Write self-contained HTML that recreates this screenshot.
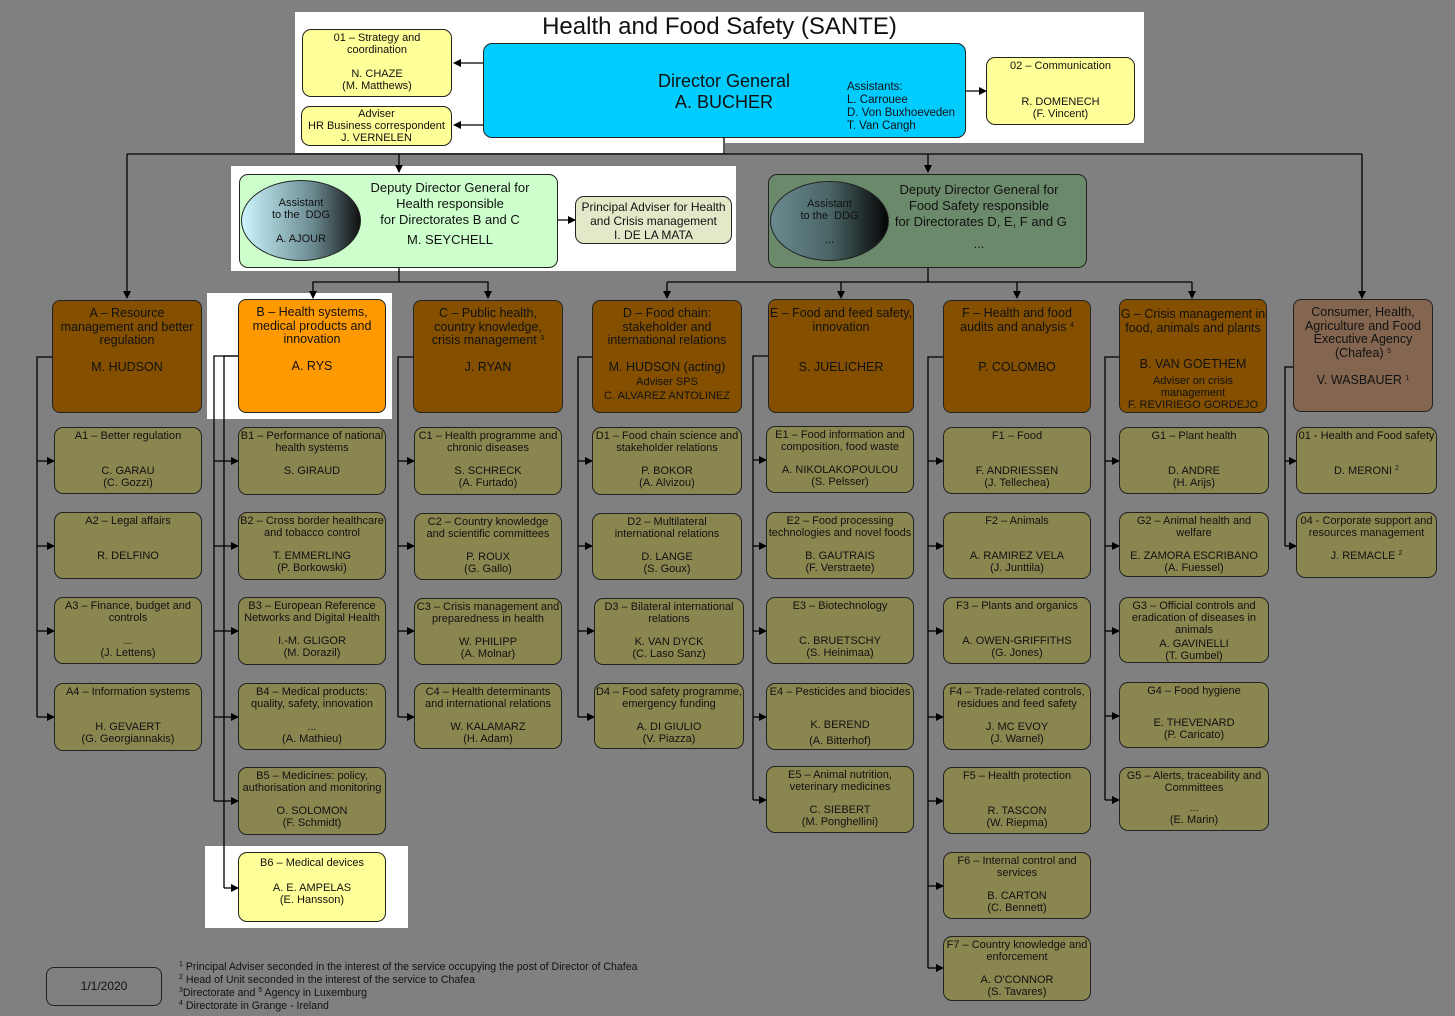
<!DOCTYPE html>
<html><head><meta charset="utf-8">
<style>
body{margin:0;width:1455px;height:1016px;background:#808080;position:relative;overflow:hidden;font-family:"Liberation Sans",sans-serif;color:#111}
.w{position:absolute;background:#fff}
.b{position:absolute;border:1px solid #222;border-radius:9px;box-sizing:border-box;text-align:center}
.u{background:#8a8650;font-size:11px;line-height:12px}
.u .t{position:absolute;top:2px;left:0;right:0}
.u .n{position:absolute;top:37px;left:0;right:0}
.d{background:#845000;font-size:12.5px;line-height:13.5px;padding-top:6px;border-radius:8px}
.y{background:#ffff99}
sup{font-size:7px;vertical-align:4px;line-height:0}
.ell{position:absolute;border:1px solid #222;border-radius:50%;text-align:center;font-size:11px;line-height:12px;box-sizing:border-box}
svg{position:absolute;left:0;top:0}
</style></head><body>
<div class="w" style="left:295px;top:12px;width:849px;height:131px"></div>
<div class="w" style="left:295px;top:143px;width:430px;height:10px"></div>
<div class="w" style="left:231px;top:166px;width:505px;height:105px"></div>
<div class="w" style="left:207px;top:293px;width:185px;height:126px"></div>
<div class="w" style="left:205px;top:846px;width:203px;height:82px"></div>

<svg width="1455" height="1016">
<defs><marker id="a" markerWidth="8" markerHeight="8" refX="7" refY="4" orient="auto" markerUnits="userSpaceOnUse"><path d="M0,0L8,4L0,8z" fill="#000"/></marker></defs>
<g stroke="#000" stroke-width="1.3" fill="none">
<path d="M724,138V154"/>
<path d="M127,154H1362"/>
<path d="M127,154V298" marker-end="url(#a)"/>
<path d="M399,154V172" marker-end="url(#a)"/>
<path d="M928,154V172" marker-end="url(#a)"/>
<path d="M1362,154V298" marker-end="url(#a)"/>
<path d="M483,63H454" marker-end="url(#a)"/>
<path d="M483,125H454" marker-end="url(#a)"/>
<path d="M966,91H986" marker-end="url(#a)"/>
<path d="M558,220H575" marker-end="url(#a)"/>
<path d="M399,268V282H313V298" marker-end="url(#a)"/>
<path d="M399,282H488V298" marker-end="url(#a)"/>
<path d="M928,268V282"/>
<path d="M667,282H1192"/>
<path d="M667,282V298" marker-end="url(#a)"/>
<path d="M841,282V298" marker-end="url(#a)"/>
<path d="M1017,282V298" marker-end="url(#a)"/>
<path d="M1192,282V298" marker-end="url(#a)"/>
<path d="M52,357H37V717"/>
<path d="M37,461H54" marker-end="url(#a)"/><path d="M37,546H54" marker-end="url(#a)"/><path d="M37,631H54" marker-end="url(#a)"/><path d="M37,717H54" marker-end="url(#a)"/>
<path d="M238,356H214V801"/><path d="M238,356H224V888"/>
<path d="M214,461H238" marker-end="url(#a)"/><path d="M214,546H238" marker-end="url(#a)"/><path d="M214,631H238" marker-end="url(#a)"/><path d="M214,717H238" marker-end="url(#a)"/><path d="M214,801H238" marker-end="url(#a)"/><path d="M224,888H238" marker-end="url(#a)"/>
<path d="M413,357H398V717"/>
<path d="M398,461H414" marker-end="url(#a)"/><path d="M398,546H414" marker-end="url(#a)"/><path d="M398,631H414" marker-end="url(#a)"/><path d="M398,717H414" marker-end="url(#a)"/>
<path d="M592,357H578V717"/>
<path d="M578,461H592" marker-end="url(#a)"/><path d="M578,546H592" marker-end="url(#a)"/><path d="M578,631H594" marker-end="url(#a)"/><path d="M578,717H594" marker-end="url(#a)"/>
<path d="M768,356H753V800"/>
<path d="M753,460H766" marker-end="url(#a)"/><path d="M753,546H766" marker-end="url(#a)"/><path d="M753,631H766" marker-end="url(#a)"/><path d="M753,717H766" marker-end="url(#a)"/><path d="M753,800H766" marker-end="url(#a)"/>
<path d="M943,357H928V968"/>
<path d="M928,461H943" marker-end="url(#a)"/><path d="M928,546H943" marker-end="url(#a)"/><path d="M928,631H943" marker-end="url(#a)"/><path d="M928,717H943" marker-end="url(#a)"/><path d="M928,801H943" marker-end="url(#a)"/><path d="M928,886H943" marker-end="url(#a)"/><path d="M928,968H943" marker-end="url(#a)"/>
<path d="M1119,357H1105V800"/>
<path d="M1105,461H1119" marker-end="url(#a)"/><path d="M1105,546H1119" marker-end="url(#a)"/><path d="M1105,631H1119" marker-end="url(#a)"/><path d="M1105,716H1119" marker-end="url(#a)"/><path d="M1105,800H1119" marker-end="url(#a)"/>
<path d="M1293,367H1285V546"/>
<path d="M1285,461H1296" marker-end="url(#a)"/><path d="M1285,546H1296" marker-end="url(#a)"/>
</g>
</svg>

<div style="position:absolute;left:295px;top:12px;width:849px;text-align:center;font-size:24px;line-height:30px">Health and Food Safety (SANTE)</div>

<div class="b y" style="left:302px;top:29px;width:150px;height:68px;font-size:11px;line-height:12px;padding-top:2px">01 – Strategy and<br>coordination<br><br>N. CHAZE<br>(M. Matthews)</div>
<div class="b y" style="left:301px;top:106px;width:151px;height:40px;font-size:11px;line-height:12px;padding-top:1px">Adviser<br>HR Business correspondent<br>J. VERNELEN</div>
<div class="b" style="left:483px;top:43px;width:483px;height:95px;background:#00ccff">
 <div style="position:absolute;left:140px;top:27px;width:200px;font-size:18px;line-height:21px">Director General<br>A. BUCHER</div>
 <div style="position:absolute;left:363px;top:37px;text-align:left;font-size:11.5px;line-height:13px">Assistants:<br>L. Carrouee<br>D. Von Buxhoeveden<br>T. Van Cangh</div>
</div>
<div class="b y" style="left:986px;top:57px;width:149px;height:68px;font-size:11px;line-height:12px;padding-top:2px">02 – Communication<br><br><br>R. DOMENECH<br>(F. Vincent)</div>

<div class="b" style="left:239px;top:174px;width:319px;height:94px;background:#ccffcc">
 <div style="position:absolute;left:110px;top:5px;width:200px;font-size:13px;line-height:16px">Deputy Director General for<br>Health responsible<br>for Directorates B and C<br><span style="line-height:24px">M. SEYCHELL</span></div>
</div>
<div class="ell" style="left:241px;top:180px;width:120px;height:81px;background:linear-gradient(90deg,#ccf6ff,#6a8a90 60%,#111);padding-top:16px">Assistant<br>to the&nbsp; DDG<br><br>A. AJOUR</div>
<div class="b" style="left:575px;top:196px;width:157px;height:48px;background:#e5e8c8;font-size:12px;line-height:14px;padding-top:3px">Principal Adviser for Health<br>and Crisis management<br>I. DE LA MATA</div>

<div class="b" style="left:768px;top:174px;width:319px;height:94px;background:#6b8a6b">
 <div style="position:absolute;left:110px;top:7px;width:200px;font-size:13px;line-height:16px">Deputy Director General for<br>Food Safety responsible<br>&nbsp;for Directorates D, E, F and G<br><span style="line-height:28px">...</span></div>
</div>
<div class="ell" style="left:770px;top:181px;width:119px;height:80px;background:linear-gradient(90deg,#6a8a90,#4a6566 50%,#050505);padding-top:16px">Assistant<br>to the&nbsp; DDG<br><br>...</div>

<div class="b d" style="left:52px;top:300px;width:150px;height:113px">A – Resource<br>management and better<br>regulation<br><br>M. HUDSON</div>
<div class="b d" style="left:238px;top:299px;width:148px;height:114px;background:#ff9900;padding-top:6px">B – Health systems,<br>medical products and<br>innovation<br><br>A. RYS</div>
<div class="b d" style="left:413px;top:300px;width:150px;height:113px">C – Public health,<br>country knowledge,<br>crisis management <sup>3</sup><br><br>J. RYAN</div>
<div class="b d" style="left:592px;top:300px;width:150px;height:113px">D – Food chain:<br>stakeholder and<br>international relations<br><br>M. HUDSON (acting)<br><span style="font-size:11px;line-height:13px">Adviser SPS<br>C. ALVAREZ ANTOLINEZ</span></div>
<div class="b d" style="left:768px;top:299px;width:146px;height:114px;padding-top:7px">E – Food and feed safety,<br>innovation<br><br><br>S. JUELICHER</div>
<div class="b d" style="left:943px;top:300px;width:148px;height:113px">F – Health and food<br>audits and analysis <sup>4</sup><br><br><br>P. COLOMBO</div>
<div class="b d" style="left:1119px;top:299px;width:148px;height:114px;padding-top:8px">G – Crisis management in<br>food, animals and plants<div style="margin-top:23px">B. VAN GOETHEM</div><div style="font-size:11px;line-height:12px;margin-top:3px">Adviser on crisis<br>management<br>F. REVIRIEGO GORDEJO</div></div>
<div class="b d" style="left:1293px;top:299px;width:140px;height:113px;background:#846650">Consumer, Health,<br>Agriculture and Food<br>Executive Agency<br>(Chafea) <sup>5</sup><br><br>V. WASBAUER <sup>1</sup></div>

<div class="b u" style="left:54px;top:427px;width:148px;height:67px"><div class="t">A1 – Better regulation</div><div class="n">C. GARAU<br>(C. Gozzi)</div></div>
<div class="b u" style="left:54px;top:512px;width:148px;height:67px"><div class="t">A2 – Legal affairs</div><div class="n">R. DELFINO</div></div>
<div class="b u" style="left:54px;top:597px;width:148px;height:67px"><div class="t">A3 – Finance, budget and<br>controls</div><div class="n">...<br>(J. Lettens)</div></div>
<div class="b u" style="left:54px;top:683px;width:148px;height:68px"><div class="t">A4 – Information systems</div><div class="n">H. GEVAERT<br>(G. Georgiannakis)</div></div>
<div class="b u" style="left:238px;top:427px;width:148px;height:68px"><div class="t">B1 – Performance of national<br>health systems</div><div class="n">S. GIRAUD</div></div>
<div class="b u" style="left:238px;top:512px;width:148px;height:68px"><div class="t">B2 – Cross border healthcare<br>and tobacco control</div><div class="n">T. EMMERLING<br>(P. Borkowski)</div></div>
<div class="b u" style="left:238px;top:597px;width:148px;height:68px"><div class="t">B3 – European Reference<br>Networks and Digital Health</div><div class="n">I.-M. GLIGOR<br>(M. Dorazil)</div></div>
<div class="b u" style="left:238px;top:683px;width:148px;height:67px"><div class="t">B4 – Medical products:<br>quality, safety, innovation</div><div class="n">...<br>(A. Mathieu)</div></div>
<div class="b u" style="left:238px;top:767px;width:148px;height:68px"><div class="t">B5 – Medicines: policy,<br>authorisation and monitoring</div><div class="n">O. SOLOMON<br>(F. Schmidt)</div></div>
<div class="b u y" style="left:238px;top:852px;width:148px;height:70px"><div class="t" style="top:4px">B6 – Medical devices</div><div class="n" style="top:29px">A. E. AMPELAS<br>(E. Hansson)</div></div>
<div class="b u" style="left:414px;top:427px;width:148px;height:68px"><div class="t">C1 – Health programme and<br>chronic diseases</div><div class="n">S. SCHRECK<br>(A. Furtado)</div></div>
<div class="b u" style="left:414px;top:513px;width:148px;height:67px"><div class="t">C2 – Country knowledge<br>and scientific committees</div><div class="n">P. ROUX<br>(G. Gallo)</div></div>
<div class="b u" style="left:414px;top:598px;width:148px;height:67px"><div class="t">C3 – Crisis management and<br>preparedness in health</div><div class="n">W. PHILIPP<br>(A. Molnar)</div></div>
<div class="b u" style="left:414px;top:683px;width:148px;height:66px"><div class="t">C4 – Health determinants<br>and international relations</div><div class="n">W. KALAMARZ<br>(H. Adam)</div></div>
<div class="b u" style="left:592px;top:427px;width:150px;height:68px"><div class="t">D1 – Food chain science and<br>stakeholder relations</div><div class="n">P. BOKOR<br>(A. Alvizou)</div></div>
<div class="b u" style="left:592px;top:513px;width:150px;height:67px"><div class="t">D2 – Multilateral<br>international relations</div><div class="n">D. LANGE<br>(S. Goux)</div></div>
<div class="b u" style="left:594px;top:598px;width:150px;height:67px"><div class="t">D3 – Bilateral international<br>relations</div><div class="n">K. VAN DYCK<br>(C. Laso Sanz)</div></div>
<div class="b u" style="left:594px;top:683px;width:150px;height:66px"><div class="t">D4 – Food safety programme,<br>emergency funding</div><div class="n">A. DI GIULIO<br>(V. Piazza)</div></div>
<div class="b u" style="left:766px;top:426px;width:148px;height:67px"><div class="t">E1 – Food information and<br>composition, food waste</div><div class="n">A. NIKOLAKOPOULOU<br>(S. Pelsser)</div></div>
<div class="b u" style="left:766px;top:512px;width:148px;height:67px"><div class="t">E2 – Food processing<br>technologies and novel foods</div><div class="n">B. GAUTRAIS<br>(F. Verstraete)</div></div>
<div class="b u" style="left:766px;top:597px;width:148px;height:67px"><div class="t">E3 – Biotechnology</div><div class="n">C. BRUETSCHY<br>(S. Heinimaa)</div></div>
<div class="b u" style="left:766px;top:683px;width:148px;height:67px"><div class="t">E4 – Pesticides and biocides</div><div class="n" style="top:33px;line-height:16px">K. BEREND<br>(A. Bitterhof)</div></div>
<div class="b u" style="left:766px;top:766px;width:148px;height:67px"><div class="t">E5 – Animal nutrition,<br>veterinary medicines</div><div class="n">C. SIEBERT<br>(M. Ponghellini)</div></div>
<div class="b u" style="left:943px;top:427px;width:148px;height:67px"><div class="t">F1 – Food</div><div class="n">F. ANDRIESSEN<br>(J. Tellechea)</div></div>
<div class="b u" style="left:943px;top:512px;width:148px;height:67px"><div class="t">F2 – Animals</div><div class="n">A. RAMIREZ VELA<br>(J. Junttila)</div></div>
<div class="b u" style="left:943px;top:597px;width:148px;height:67px"><div class="t">F3 – Plants and organics</div><div class="n">A. OWEN-GRIFFITHS<br>(G. Jones)</div></div>
<div class="b u" style="left:943px;top:683px;width:148px;height:67px"><div class="t">F4 – Trade-related controls,<br>residues and feed safety</div><div class="n">J. MC EVOY<br>(J. Warnel)</div></div>
<div class="b u" style="left:943px;top:767px;width:148px;height:67px"><div class="t">F5 – Health protection</div><div class="n">R. TASCON<br>(W. Riepma)</div></div>
<div class="b u" style="left:943px;top:852px;width:148px;height:67px"><div class="t">F6 – Internal control and<br>services</div><div class="n">B. CARTON<br>(C. Bennett)</div></div>
<div class="b u" style="left:943px;top:936px;width:148px;height:65px"><div class="t">F7 – Country knowledge and<br>enforcement</div><div class="n">A. O'CONNOR<br>(S. Tavares)</div></div>
<div class="b u" style="left:1119px;top:427px;width:150px;height:67px"><div class="t">G1 – Plant health</div><div class="n">D. ANDRE<br>(H. Arijs)</div></div>
<div class="b u" style="left:1119px;top:512px;width:150px;height:65px"><div class="t">G2 – Animal health and<br>welfare</div><div class="n">E. ZAMORA ESCRIBANO<br>(A. Fuessel)</div></div>
<div class="b u" style="left:1119px;top:597px;width:150px;height:66px"><div class="t">G3 – Official controls and<br>eradication of diseases in<br>animals</div><div class="n" style="top:40px">A. GAVINELLI<br>(T. Gumbel)</div></div>
<div class="b u" style="left:1119px;top:682px;width:150px;height:66px"><div class="t">G4 – Food hygiene</div><div class="n" style="top:34px">E. THEVENARD<br>(P. Caricato)</div></div>
<div class="b u" style="left:1119px;top:767px;width:150px;height:64px"><div class="t">G5 – Alerts, traceability and<br>Committees</div><div class="n" style="top:34px">...<br>(E. Marin)</div></div>
<div class="b u" style="left:1296px;top:427px;width:141px;height:67px"><div class="t">01 - Health and Food safety</div><div class="n">D. MERONI <sup>2</sup></div></div>
<div class="b u" style="left:1296px;top:512px;width:141px;height:66px"><div class="t">04 - Corporate support and<br>resources management</div><div class="n">J. REMACLE <sup>2</sup></div></div>

<div class="b" style="left:46px;top:967px;width:116px;height:39px;border-radius:8px;font-size:12px;line-height:37px">1/1/2020</div>
<div style="position:absolute;left:179px;top:961px;font-size:10.6px;line-height:13px">
<sup>1</sup> Principal Adviser seconded in the interest of the service occupying the post of Director of Chafea<br>
<sup>2</sup> Head of Unit seconded in the interest of the service to Chafea<br>
<sup>3</sup>Directorate and <sup>5</sup> Agency in Luxemburg<br>
<sup>4</sup> Directorate in Grange - Ireland</div>
</body></html>
